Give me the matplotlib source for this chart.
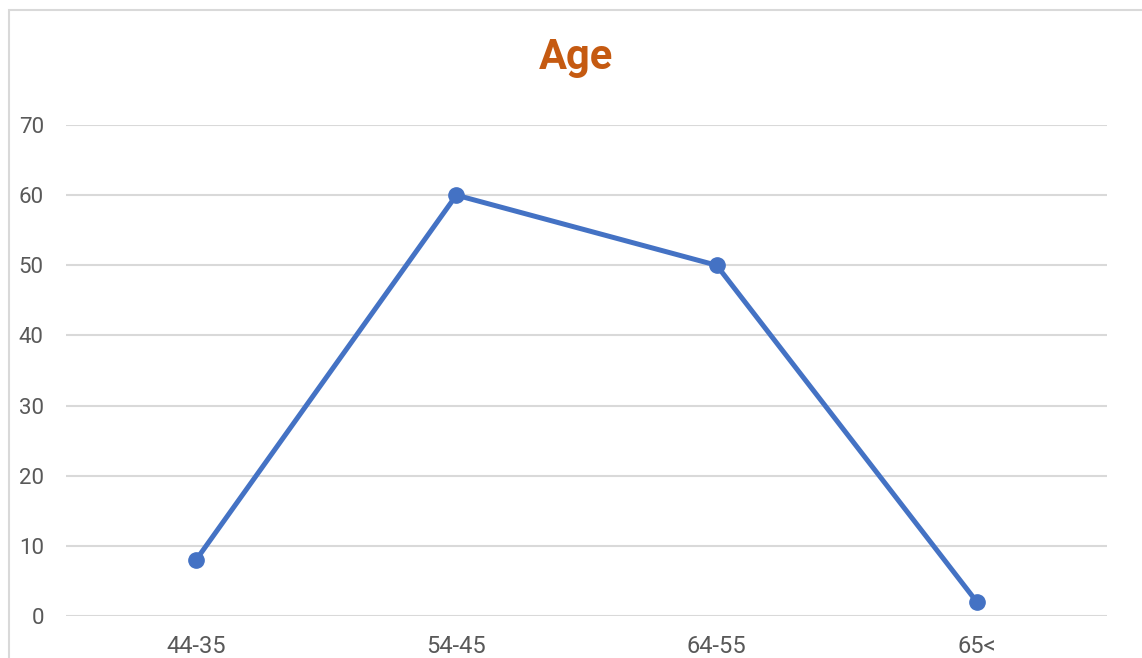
import matplotlib
matplotlib.use('Agg')
import matplotlib.pyplot as plt
from matplotlib.patches import Rectangle

# ── Data ──────────────────────────────────────────────────────────────────────
categories = ['44-35', '54-45', '64-55', '65<']
values     = [8, 60, 50, 2]
y_ticks    = [0, 10, 20, 30, 40, 50, 60, 70]

W, H = 1142, 658
fig = plt.figure(figsize=(W / 100, H / 100), dpi=100)
plt.rcParams['font.family'] = ['Roboto', 'DejaVu Sans']

# chart border (light gray frame, runs off the right and bottom edges)
fig.patches.append(Rectangle((9 / W, -0.05), 1.2, 1 - 10 / H + 0.05,
                             transform=fig.transFigure, fill=False,
                             edgecolor='#d9d9d9', linewidth=1.5))

ax = fig.add_axes([66 / W, (H - 616) / H, (1107 - 66) / W, (616 - 125) / H])
x = range(len(categories))
ax.plot(x, values, color='#4472C4', linewidth=3.6, marker='o',
        markersize=11, solid_capstyle='round', zorder=3)

ax.set_xlim(-0.5, len(categories) - 0.5)
ax.set_ylim(0, 70)
ax.set_yticks(y_ticks)
ax.set_xticks(list(x))
ax.set_xticklabels(categories)
ax.grid(True, axis='y', color='#d9d9d9', linewidth=1.5)
ax.set_axisbelow(True)
for s in ax.spines.values():
    s.set_visible(False)
ax.tick_params(axis='both', length=0, labelcolor='#595959')
ax.tick_params(axis='x', pad=14, labelsize=17)
ax.tick_params(axis='y', pad=16, labelsize=16)

fig.text(576 / W, 1 - 57 / H, 'Age', ha='center', va='center',
         fontsize=30, fontweight='bold', color='#C55A11',
         family=['Liberation Sans Narrow', 'Roboto', 'DejaVu Sans'])

fig.savefig('out.png', dpi=100)
